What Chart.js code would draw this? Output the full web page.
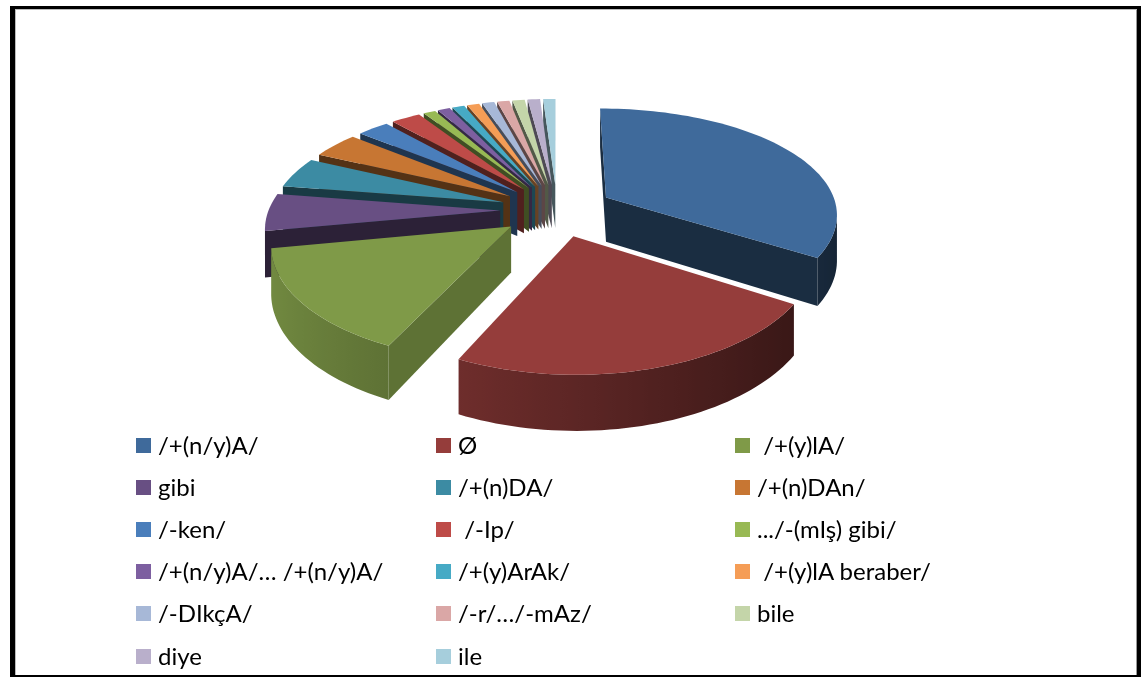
<!DOCTYPE html>
<html>
<head>
<meta charset="utf-8">
<script src="https://cdn.jsdelivr.net/npm/chart.js@4"></script>
<style>
    html, body { margin: 0; padding: 0; background: #fff; overflow: hidden; }
    #page { position: relative; width: 1141px; height: 677px; }
    #frame {
        position: absolute; left: 10px; top: 6px; right: 0; bottom: 0;
        border-style: solid; border-color: #000;
        border-width: 3px 4px 2px 5px;
        box-shadow: inset 1px 1px 0 #bbb, inset -1px 0 0 #999;
        pointer-events: none;
    }
    #pie { position: absolute; left: 0; top: 0; }
    #legend {
        position: absolute; left: 136px; top: 424px;
        display: grid; grid-template-columns: 300px 299px 300px; grid-auto-rows: 42.2px;
        font-family: Lato, sans-serif; font-size: 24px; color: #000;
    }
    .item { display: flex; align-items: center; white-space: pre; }
    .swatch { width: 15px; height: 15px; margin-right: 7px; flex: none; }
    .item span:last-child { position: relative; top: -1px; }
</style>
</head>
<body>
<div id="page">
    <canvas id="pie" width="1141" height="677"></canvas>
    <div id="legend"></div>
    <div id="frame"></div>
</div>
<script>
const labels = ['/+(n/y)A/', 'Ø', ' /+(y)lA/', 'gibi', '/+(n)DA/', '/+(n)DAn/', '/-ken/', ' /-Ip/',
    '.../-(mIş) gibi/', '/+(n/y)A/… /+(n/y)A/', '/+(y)ArAk/', ' /+(y)lA beraber/', '/-DIkçA/', '/-r/…/-mAz/', 'bile', 'diye', 'ile'];
const values = [34, 23, 15, 5.5, 4.6, 3.9, 2.6, 2.4, 1, 1, 1, 1, 1, 1, 1, 1, 1];
const colors = ['#3f6a9b', '#953d3b', '#7f9a48', '#684f83', '#3c8ba3', '#c77633', '#4a7ebb', '#be4b48',
    '#98b954', '#7d5fa0', '#46aac5', '#f59d56', '#a7b8d7', '#daa7a6', '#c4d5a9', '#b9afcb', '#a6cedc'];

// perspective of the tilted pie, x and y foreshorten a bit differently
const view = { cx: 557, cy: 210, kx: 231.5, ky: 107, perspX: 0.14, perspY: 0.16, depth: 45 };

function project(u, v, down) {
    const px = 1 / (1 - view.perspX * v);
    const py = 1 / (1 - view.perspY * v);
    return { x: view.cx + view.kx * u * px, y: view.cy + view.ky * v * py + (down ? view.depth * py : 0) };
}

function shade(hex, f) {
    const n = parseInt(hex.slice(1), 16);
    return 'rgb(' + Math.round((n >> 16) * f) + ',' + Math.round(((n >> 8) & 255) * f) + ',' + Math.round((n & 255) * f) + ')';
}

function fillPoly(ctx, pts, color) {
    ctx.beginPath();
    pts.forEach((p, i) => i ? ctx.lineTo(p.x, p.y) : ctx.moveTo(p.x, p.y));
    ctx.closePath();
    ctx.fillStyle = color;
    ctx.fill();
}

function polyArea(pts) {
    let s = 0;
    pts.forEach((p, i) => {
        const q = pts[(i + 1) % pts.length];
        s += p.x * q.y - q.x * p.y;
    });
    return s;
}

// straight wall under the edge a-b, skipped when it faces away from us
function wall(ctx, a, b, color) {
    const quad = [project(a.u, a.v), project(b.u, b.v), project(b.u, b.v, true), project(a.u, a.v, true)];
    if (polyArea(quad) < 0) fillPoly(ctx, quad, color);
}

// radial walls are dark except when they face right and forward
function radialShade(sinNormal) {
    const t = Math.min(1, Math.max(0, (sinNormal - 0.2) / 0.7));
    return 0.42 + 0.32 * t;
}

// curved wall: only the part of the rim that faces us, one polygon with a gradient
function rimWall(ctx, rim, color) {
    const visible = [];
    for (let k = 0; k < rim.length - 1; k++) {
        const a = rim[k], b = rim[k + 1];
        const quad = [project(a.u, a.v), project(b.u, b.v), project(b.u, b.v, true), project(a.u, a.v, true)];
        if (polyArea(quad) < 0) {
            if (!visible.length) visible.push(a);
            visible.push(b);
        }
    }
    if (visible.length < 2) return;
    const top = visible.map(p => project(p.u, p.v));
    const bottom = visible.map(p => project(p.u, p.v, true)).reverse();
    const x0 = top[0].x, x1 = top[top.length - 1].x;
    const grad = ctx.createLinearGradient(x0, 0, x1 === x0 ? x0 + 1 : x1, 0);
    visible.forEach((p, k) => {
        const t = (top[k].x - x0) / ((x1 - x0) || 1);
        grad.addColorStop(Math.min(1, Math.max(0, t)), shade(color, 0.62 - 0.28 * Math.cos(p.a)));
    });
    fillPoly(ctx, top.concat(bottom), grad);
}

const tiltedPie = {
    id: 'tiltedPie',
    beforeDatasetsDraw(chart) {
        const ctx = chart.ctx;
        const slices = chart.getDatasetMeta(0).data.map((arc, i) => {
            const mid = (arc.startAngle + arc.endAngle) / 2;
            const e = arc.options.offset / arc.outerRadius;
            const apex = { u: Math.cos(mid) * e, v: Math.sin(mid) * e };
            const rim = [];
            const steps = Math.max(2, Math.ceil((arc.endAngle - arc.startAngle) / 0.03));
            for (let s = 0; s <= steps; s++) {
                const a = arc.startAngle + (arc.endAngle - arc.startAngle) * s / steps;
                rim.push({ a: a, u: apex.u + Math.cos(a), v: apex.v + Math.sin(a) });
            }
            return { i: i, apex: apex, rim: rim, start: arc.startAngle, end: arc.endAngle };
        });

        // back slices first
        slices.sort((p, q) => p.apex.v - q.apex.v);
        slices.forEach(s => {
            const color = colors[s.i];
            wall(ctx, s.apex, s.rim[0], shade(color, radialShade(Math.sin(s.start))));
            wall(ctx, s.rim[s.rim.length - 1], s.apex, shade(color, radialShade(-Math.sin(s.end))));
            rimWall(ctx, s.rim, color);
            fillPoly(ctx, [s.apex].concat(s.rim).map(p => project(p.u, p.v)), color);
        });
        return false;
    }
};

new Chart(document.getElementById('pie'), {
    type: 'pie',
    data: {
        labels: labels,
        datasets: [{ data: values, backgroundColor: colors, borderWidth: 0, offset: 74 }]
    },
    options: {
        responsive: false,
        animation: false,
        plugins: { legend: { display: false }, tooltip: { enabled: false } }
    },
    plugins: [tiltedPie]
});

// legend is laid out in fixed columns, three to a row
const legendBox = document.getElementById('legend');
labels.forEach((label, i) => {
    const item = document.createElement('div');
    item.className = 'item';
    const swatch = document.createElement('span');
    swatch.className = 'swatch';
    swatch.style.background = colors[i];
    const text = document.createElement('span');
    text.textContent = label;
    item.appendChild(swatch);
    item.appendChild(text);
    legendBox.appendChild(item);
});
</script>
</body>
</html>
